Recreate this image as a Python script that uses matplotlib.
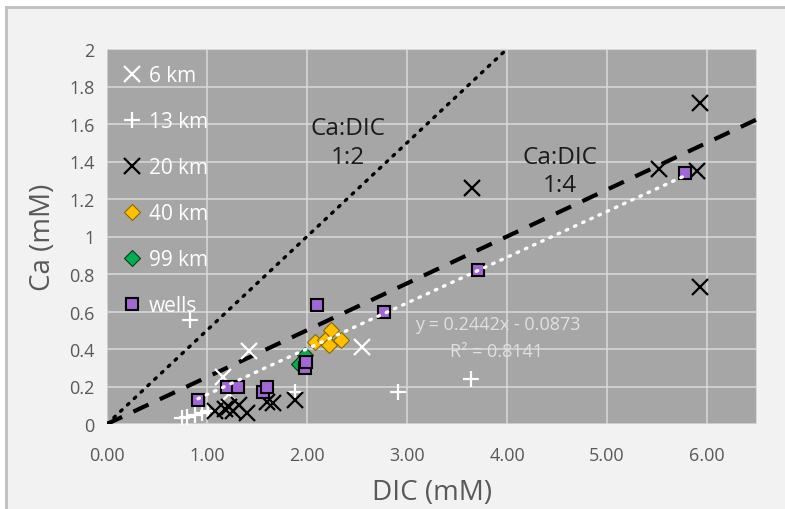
import matplotlib
matplotlib.use("Agg")
import matplotlib.pyplot as plt
import numpy as np
from matplotlib.lines import Line2D

plt.rcParams.update({
    "font.family": "Open Sans",
    "font.size": 12,
})

# Ca vs DIC by sampling distance
km6_dic = [1.16, 1.22, 1.42, 2.55]
km6_ca = [0.25, 0.16, 0.39, 0.41]

km13_dic = [0.75, 0.80, 0.88, 0.95, 1.01, 0.83, 1.88, 2.91, 3.64]
km13_ca = [0.03, 0.04, 0.05, 0.06, 0.07, 0.555, 0.17, 0.17, 0.24]

km20_dic = [1.08, 1.18, 1.22, 1.26, 1.32, 1.40, 1.60, 1.66, 1.88,
            3.65, 5.52, 5.90, 5.93, 5.93]
km20_ca = [0.07, 0.08, 0.09, 0.07, 0.10, 0.06, 0.12, 0.11, 0.13,
           1.26, 1.36, 1.35, 1.71, 0.73]

km40_dic = [2.08, 2.18, 2.22, 2.24, 2.34]
km40_ca = [0.44, 0.45, 0.42, 0.50, 0.45]

km99_dic = [1.92, 1.98]
km99_ca = [0.32, 0.37]

wells_dic = [0.91, 1.20, 1.31, 1.56, 1.60, 1.98, 1.99, 2.10, 2.77, 3.71, 5.78]
wells_ca = [0.13, 0.20, 0.20, 0.17, 0.20, 0.30, 0.33, 0.635, 0.60, 0.82, 1.34]

# linear fit through the wells
fit_slope, fit_icept, fit_r2 = 0.2442, -0.0873, 0.8141

GREY_TXT = "#595959"
PLOT_BG = "#a6a6a6"
FIG_BG = "#f2f2f2"
GRID = "#d9d9d9"

fig = plt.figure(figsize=(7.85, 5.10), dpi=100)
fig.patch.set_facecolor(FIG_BG)
# white margin + grey border of the chart area (top and left only)
x0, y0 = 6 / 785, 1 - 8 / 510
fig.add_artist(plt.Rectangle((0, y0), 1, 1 - y0, transform=fig.transFigure,
                             facecolor="white", edgecolor="none", zorder=-5))
fig.add_artist(plt.Rectangle((0, 0), x0, 1, transform=fig.transFigure,
                             facecolor="white", edgecolor="none", zorder=-5))
fig.add_artist(Line2D([x0, 1], [y0, y0], transform=fig.transFigure,
                      color="#bfbfbf", linewidth=2))
fig.add_artist(Line2D([x0, x0], [0, y0], transform=fig.transFigure,
                      color="#bfbfbf", linewidth=2))

ax = fig.add_axes([107 / 785, 1 - 425 / 510, 650 / 785, 375 / 510])
ax.set_facecolor(PLOT_BG)
for s in ax.spines.values():
    s.set_visible(False)

ax.set_xlim(0, 6.5)
ax.set_ylim(0, 2)
ax.set_xticks(np.arange(0, 7, 1))
ax.set_xticklabels([f"{v:.2f}" for v in np.arange(0, 7, 1)])
yt = np.round(np.arange(0, 2.01, 0.2), 1)
ax.set_yticks(yt)
ax.set_yticklabels([f"{v:g}" for v in yt])
ax.tick_params(length=0, colors=GREY_TXT, labelsize=13)
ax.tick_params(axis="x", pad=16)
ax.tick_params(axis="y", pad=9)
ax.grid(True, color=GRID, linewidth=1.1)
ax.set_axisbelow(True)
ax.axhline(2, color=GRID, linewidth=1.5, zorder=0)
ax.axvline(6.5, color=GRID, linewidth=1.5, zorder=0)

ax.set_xlabel("DIC (mM)", color=GREY_TXT, fontsize=20)
ax.set_ylabel("Ca (mM)", color=GREY_TXT, fontsize=20)
ax.xaxis.set_label_coords(0.5, -54 / 375, transform=ax.transAxes)
ax.yaxis.set_label_coords(-50 / 650, 0.5, transform=ax.transAxes)

# stoichiometric reference lines
x12 = np.array([0, 4.0])
ax.plot(x12, x12 / 2, color="black", linestyle=(0, (0.6, 2.2)),
        dash_capstyle="round", linewidth=2.4, zorder=2)
x14 = np.array([0, 6.5])
ax.plot(x14, x14 / 4, color="black", linestyle=(0, (4, 3)),
        linewidth=3, zorder=2)

ax.text(2.41, 1.50, "Ca:DIC\n1:2", ha="center", va="center",
        fontsize=17.5, color="#1a1a1a", linespacing=1.25)
ax.text(4.53, 1.35, "Ca:DIC\n1:4", ha="center", va="center",
        fontsize=17.5, color="#1a1a1a", linespacing=1.25)

ax.plot(km6_dic, km6_ca, "x", color="white", markersize=11, mew=1.6,
        label="6 km", zorder=4)
ax.plot(km13_dic, km13_ca, "+", color="white", markersize=12, mew=1.6,
        label="13 km", zorder=4)
ax.plot(km20_dic, km20_ca, "x", color="black", markersize=11, mew=1.6,
        label="20 km", zorder=4)
ax.plot(km40_dic, km40_ca, "D", color="#ffc000", markeredgecolor="#8a6a00",
        markersize=8, mew=0.8, label="40 km", zorder=4)
ax.plot(km99_dic, km99_ca, "D", color="#00b050", markeredgecolor="#0a3a1a",
        markersize=8, mew=0.8, label="99 km", zorder=4)
ax.plot(wells_dic, wells_ca, "s", color="#a366d6", markeredgecolor="black",
        markersize=8.5, mew=1.5, label="wells", zorder=5)

# trendline for the wells
xf = np.array([min(wells_dic), max(wells_dic)])
ax.plot(xf, fit_slope * xf + fit_icept, color="white",
        linestyle=(0, (0.5, 2.2)), dash_capstyle="round", linewidth=2.4,
        zorder=6)
ax.text(3.91, 0.533, f"y = {fit_slope:.4f}x - {abs(fit_icept):.4f}",
        ha="center", va="center", fontsize=13, color="#e0e0e0")
ax.text(3.90, 0.39, f"R² = {fit_r2:.4f}",
        ha="center", va="center", fontsize=13, color="#e0e0e0")

leg = ax.legend(loc="upper left", bbox_to_anchor=(0.0, 0.99), frameon=False,
                labelcolor="white", fontsize=15, handletextpad=0.2,
                labelspacing=1.2, handlelength=1.2, borderaxespad=0.2)

fig.savefig("out.png", dpi=100)
